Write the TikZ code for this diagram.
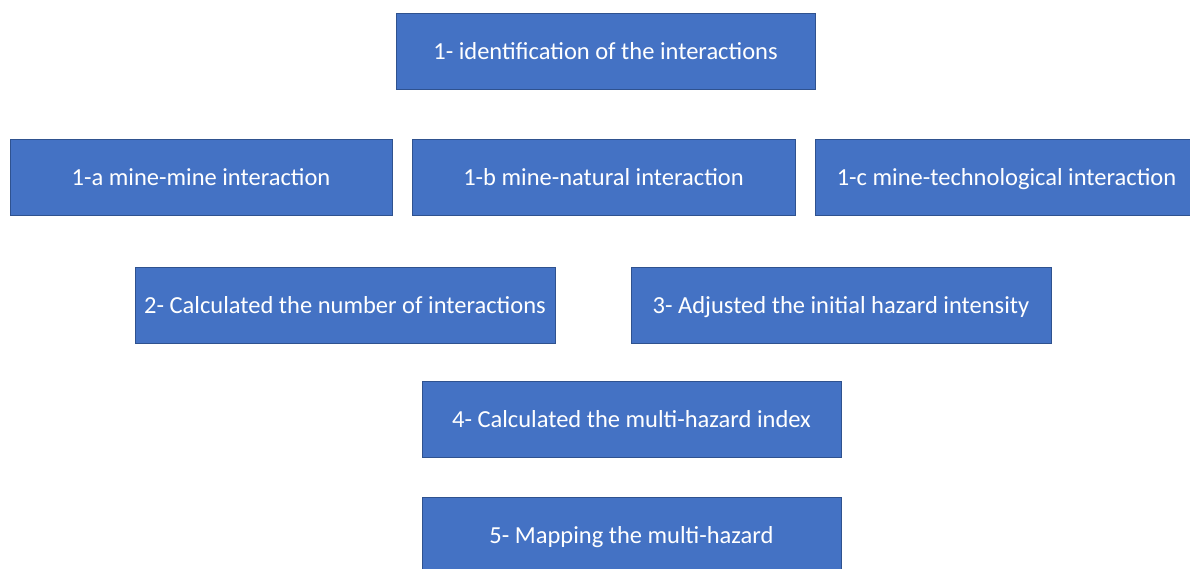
\documentclass[tikz,border=0pt]{standalone}
\usepackage{fontspec}
\setmainfont{Carlito}
\usepackage{xcolor}
\usepackage{tikz}
\usetikzlibrary{positioning}

\definecolor{stepblue}{HTML}{4472C4}
\definecolor{stepedge}{HTML}{2F528F}

\begin{document}
\begin{tikzpicture}[x=1pt, y=-1pt,
  stepbox/.style={draw=stepedge, line width=0.8pt, fill=stepblue, text=white,
    rectangle, inner sep=0pt, minimum height=76pt,
    text height=19pt, text depth=3pt,
    font=\fontsize{24.5}{29}\selectfont}]
  \useasboundingbox (0,0) rectangle (1190,568);
  \clip (0,0) rectangle (1190,568);

  \node[stepbox, minimum width=419pt] (ident) at (605.5,51) {1- identification of the interactions};

  \node[stepbox, minimum width=382pt] (minemine) at (201,177.5) {1-a mine-mine interaction};
  \node[stepbox, minimum width=383pt] (minenat) at (603.5,177.5) {1-b mine-natural interaction};
  \node[stepbox, minimum width=383pt] (minetech) at (1006.5,177.5) {1-c mine-technological interaction};

  \node[stepbox, minimum width=420pt] (count) at (345,305) {2- Calculated the number of interactions};
  \node[stepbox, minimum width=420pt] (adjust) at (841,305) {3- Adjusted the initial hazard intensity};

  \node[stepbox, minimum width=419pt] (index) at (631.5,419) {4- Calculated the multi-hazard index};

  \node[stepbox, minimum width=419pt] (mapping) at (631.5,535) {5- Mapping the multi-hazard};
\end{tikzpicture}
\end{document}
